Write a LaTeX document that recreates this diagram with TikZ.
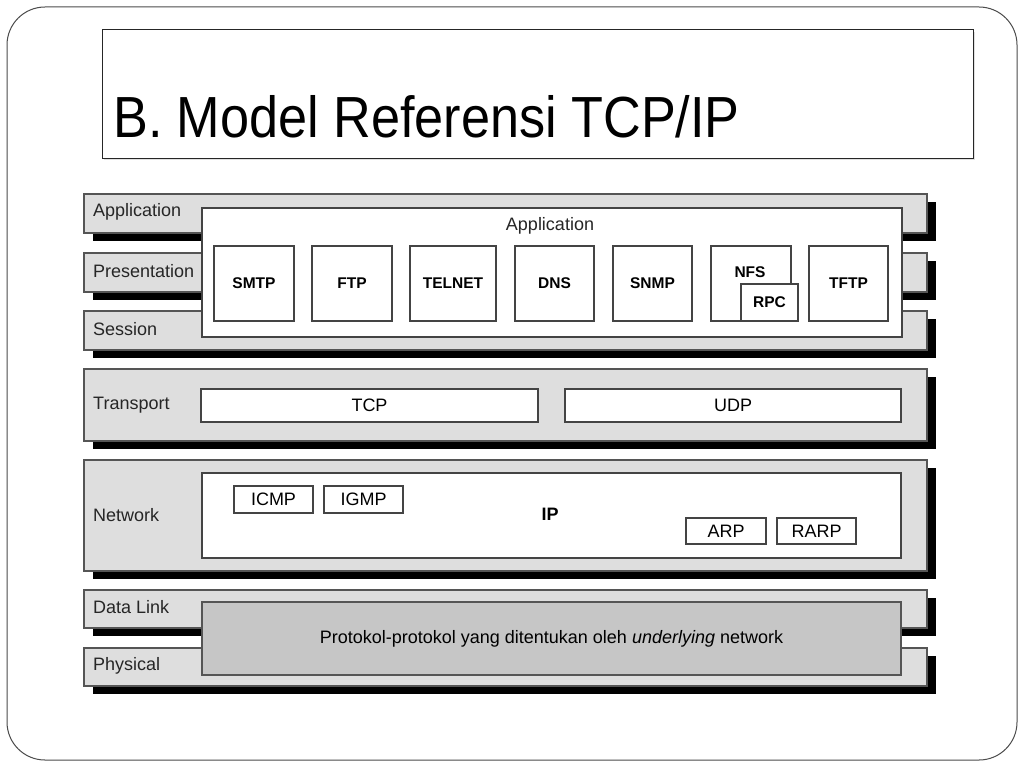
\documentclass[tikz,border=0pt]{standalone}
\usepackage{fontspec}
\setmainfont{Liberation Sans}
\newfontfamily\titlefont[FakeStretch=0.9]{Liberation Sans}
\usetikzlibrary{shadows}
\definecolor{barfill}{HTML}{DEDEDE}
\definecolor{barline}{HTML}{555555}
\definecolor{boxline}{HTML}{444444}
\definecolor{grayfill}{HTML}{C6C6C6}
\newcommand\rbox[7]{\node[#2, anchor=north west, minimum width={(#5-#3)*1pt}, minimum height={(#6-#4)*1pt}] (#1) at (#3,#4) {#7};}
\tikzset{
  base/.style={rectangle, inner sep=0pt, outer sep=0pt},
  layer/.style={base, fill=barfill, draw=barline, line width=1.3pt,
    general shadow={fill=black, shadow xshift=9pt, shadow yshift=-8pt}},
  inner/.style={base, fill=white, draw=boxline, line width=1.2pt},
  proto/.style={base, fill=white, draw=boxline, line width=1.2pt, font=\fontsize{15.5}{17}\selectfont\bfseries},
  small/.style={base, fill=white, draw=boxline, line width=1.2pt, font=\fontsize{18}{20}\selectfont},
  lbl/.style={inner sep=0pt, font=\fontsize{18}{20}\selectfont, text=black!85},
  plainbox/.style={base, fill=white, draw=boxline, line width=1.2pt, font=\fontsize{18}{20}\selectfont},
}
\begin{document}
\begin{tikzpicture}[x=1pt,y=-1pt]
\useasboundingbox (0,0) rectangle (1024,768);
\fill[white] (0,0) rectangle (1024,768);
% slide frame
\draw[rounded corners=38pt, line width=1pt, draw=black!70] (7,7) rectangle (1017,760);
% title box
\rbox{titlebox}{base, draw=black!85, line width=1pt, fill=white, general shadow={fill=black!12, shadow xshift=2pt, shadow yshift=-2pt}}{102}{30}{973}{158}{}
\node[anchor=base west, inner sep=0pt, font=\titlefont\fontsize{58}{60}\selectfont] (title) at (113,137) {B. Model Referensi TCP/IP};
% layer bars
\rbox{appbar}{layer}{84}{194}{927}{233}{}
\rbox{presbar}{layer}{84}{253}{927}{292}{}
\rbox{sessbar}{layer}{84}{311}{927}{350}{}
\rbox{transbar}{layer}{84}{369}{927}{441}{}
\rbox{netbar}{layer}{84}{460}{927}{571}{}
\rbox{dlbar}{layer}{84}{590}{927}{628}{}
\rbox{physbar}{layer}{84}{648}{927}{686}{}
% layer labels
\node[lbl, anchor=west] (lapp) at (93,212) {Application};
\node[lbl, anchor=west] (lpres) at (93,271) {Presentation};
\node[lbl, anchor=west] (lsess) at (93,329) {Session};
\node[lbl, anchor=west] (ltrans) at (93,405) {Transport};
\node[lbl, anchor=west] (lnet) at (93,515) {Network};
\node[lbl, anchor=west] (ldl) at (93,607) {Data Link};
\node[lbl, anchor=west] (lphys) at (93,666) {Physical};
% application box
\rbox{appbox}{inner}{202}{208}{902}{337}{}
\node[lbl] (apptext) at (550,226) {Application};
\rbox{smtp}{proto}{214}{246}{294}{321}{SMTP}
\rbox{ftp}{proto}{312}{246}{392}{321}{FTP}
\rbox{telnet}{proto}{410}{246}{496}{321}{TELNET}
\rbox{dns}{proto}{515}{246}{594}{321}{DNS}
\rbox{snmp}{proto}{613}{246}{692}{321}{SNMP}
\rbox{nfs}{proto}{711}{246}{791}{321}{}
\node[inner sep=0pt, font=\fontsize{15.5}{17}\selectfont\bfseries] (nfstext) at (750,272) {NFS};
\rbox{rpc}{proto}{741}{284}{798}{321}{RPC}
\rbox{tftp}{proto}{809}{246}{888}{321}{TFTP}
% transport
\rbox{tcp}{plainbox}{201}{389}{538}{422}{TCP}
\rbox{udp}{plainbox}{565}{389}{901}{422}{UDP}
% network
\rbox{ipbox}{inner}{202}{473}{901}{558}{}
\node[inner sep=0pt, font=\fontsize{18}{20}\selectfont\bfseries] (ip) at (550,514) {IP};
\rbox{icmp}{small}{234}{486}{313}{513}{ICMP}
\rbox{igmp}{small}{324}{486}{403}{513}{IGMP}
\rbox{arp}{small}{686}{518}{766}{544}{ARP}
\rbox{rarp}{small}{777}{518}{856}{544}{RARP}
% data link / physical
\rbox{under}{base, fill=grayfill, draw=barline, line width=1.3pt, font=\fontsize{18}{20}\selectfont}{202}{602}{901}{675}{Protokol-protokol yang ditentukan oleh \textit{underlying} network}
\end{tikzpicture}
\end{document}
